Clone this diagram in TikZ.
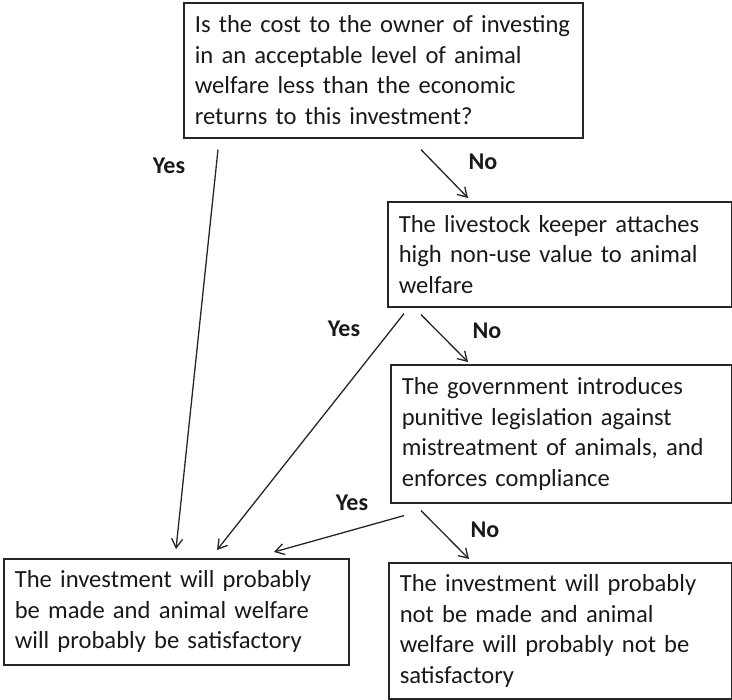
\documentclass[tikz,border=0pt]{standalone}
\usepackage{fontspec}
\setmainfont{Carlito}
\usetikzlibrary{arrows.meta,calc}
\begin{document}
\begin{tikzpicture}[x=1pt,y=-1pt,
  box/.style={draw=black!85,line width=1.6pt,anchor=north west,inner xsep=11pt,inner ysep=0pt,
    align=left,font=\fontsize{24.6}{30.5}\selectfont,text=black!90},
  lbl/.style={font=\fontsize{24}{28}\selectfont\bfseries,text=black!90,inner sep=0pt},
  conn/.style={draw=black!85,line width=1.3pt,-{Straight Barb[length=9pt,width=11pt,line width=1.3pt]}}]
\useasboundingbox (0,0) rectangle (732,700);
\node[box,minimum width=399pt,minimum height=135pt,text width=377pt] (b1) at (183,2)
  {Is the cost to the owner of investing\\in an acceptable level of animal\\welfare less than the economic\\returns to this investment?};
\node[box,minimum width=344pt,minimum height=105pt,text width=322pt] (b2) at (387,201)
  {The livestock keeper attaches\\high non-use value to animal\\welfare};
\node[box,minimum width=341pt,minimum height=138pt,text width=319pt] (b3) at (390,364)
  {The government introduces\\punitive legislation against\\mistreatment of animals, and\\enforces compliance};
\node[box,minimum width=345pt,minimum height=106pt,text width=323pt] (b4) at (3,558)
  {The investment will probably\\be made and animal welfare\\will probably be satisfactory};
\node[box,minimum width=343pt,minimum height=136pt,text width=321pt] (b5) at (388,562)
  {The investment will probably\\not be made and animal\\welfare will probably not be\\satisfactory};
% connector end points
\coordinate (y1s) at ($(b1.south west)+(35,11)$);
\coordinate (y1e) at ($(b4.north west)+(173,-9)$);
\coordinate (n1s) at ($(b1.south west)+(238,11)$);
\coordinate (n1e) at ($(b2.north west)+(81,-3)$);
\coordinate (y2s) at ($(b2.south west)+(17,6)$);
\coordinate (y2e) at ($(b4.north west)+(214,-8)$);
\coordinate (n2s) at ($(b2.south west)+(34,7)$);
\coordinate (n2e) at ($(b3.north west)+(78,-2)$);
\coordinate (y3s) at ($(b3.south west)+(14,12)$);
\coordinate (y3e) at ($(b4.north west)+(271,-6)$);
\coordinate (n3s) at ($(b3.south west)+(31,7)$);
\coordinate (n3e) at ($(b5.north west)+(81,-3)$);
\draw[conn] (y1s) -- (y1e);
\draw[conn] (n1s) -- (n1e);
\draw[conn] (y2s) -- (y2e);
\draw[conn] (n2s) -- (n2e);
\draw[conn] (y3s) -- (y3e);
\draw[conn] (n3s) -- (n3e);
\node[lbl] (ly1) at (169,166) {Yes};
\node[lbl] (ln1) at (483,162) {No};
\node[lbl] (ly2) at (344,329) {Yes};
\node[lbl] (ln2) at (487,331) {No};
\node[lbl] (ly3) at (352,503) {Yes};
\node[lbl] (ln3) at (485,530) {No};
\end{tikzpicture}
\end{document}
